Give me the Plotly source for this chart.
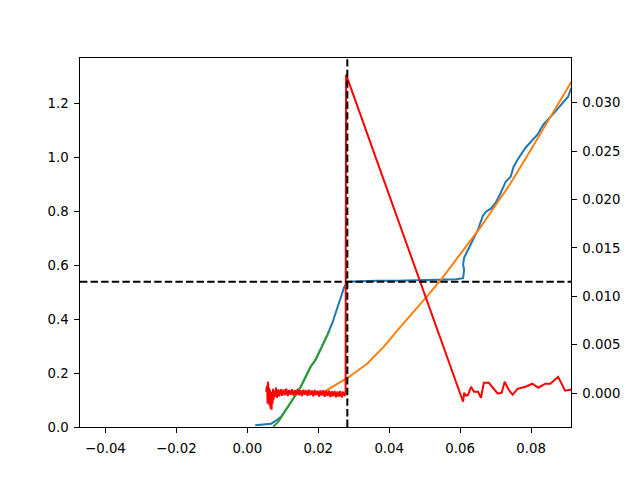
import plotly.graph_objects as go

# ---------------- data ----------------
blue_x = [0.00223, 0.00447, 0.00670, 0.00809, 0.00949, 0.01089, 0.01228, 0.01368, 0.01507, 0.01647,
          0.01786, 0.01926, 0.02037, 0.02149, 0.02261, 0.02400, 0.02540, 0.02679, 0.02735, 0.02819,
          0.03098, 0.03656, 0.04214, 0.04772, 0.05331, 0.05889, 0.06084, 0.06112, 0.06084, 0.06112,
          0.06224, 0.06363, 0.06503, 0.06643, 0.06726, 0.06866, 0.07005, 0.07145, 0.07284, 0.07424,
          0.07508, 0.07619, 0.07843, 0.08178, 0.08345, 0.08680, 0.08903, 0.09043, 0.09126, 0.09238]
blue_y = [0.0067, 0.0085, 0.0122, 0.0233, 0.0381, 0.0641, 0.0900, 0.1196, 0.1493, 0.1863,
          0.2233, 0.2493, 0.2789, 0.3122, 0.3419, 0.3863, 0.4456, 0.5011, 0.5196, 0.5381,
          0.5400, 0.5419, 0.5419, 0.5437, 0.5456, 0.5474, 0.5511, 0.5826, 0.6011, 0.6270,
          0.6567, 0.6937, 0.7307, 0.7826, 0.7974, 0.8085, 0.8307, 0.8678, 0.9085, 0.9270,
          0.9641, 0.9900, 1.0344, 1.0826, 1.1196, 1.1678, 1.2011, 1.2233, 1.2530, 1.2715]

orange_x = [0.02037, 0.02261, 0.02540, 0.02875, 0.03377, 0.03852, 0.04298, 0.04773, 0.05135, 0.05526,
            0.06112, 0.06587, 0.06950, 0.07396, 0.07843, 0.08317, 0.08764, 0.09126, 0.09238]
orange_y = [0.1196, 0.1381, 0.1604, 0.1863, 0.2344, 0.2974, 0.3678, 0.4381, 0.4937, 0.5567,
            0.6604, 0.7419, 0.8122, 0.8974, 0.9937, 1.0974, 1.1974, 1.2789, 1.3011]

green_x = [0.00726, 0.00865, 0.00949, 0.01089, 0.01228, 0.01368, 0.01507, 0.01647, 0.01786, 0.01926,
           0.02037, 0.02149, 0.02261, 0.02317]
green_y = [0.0011, 0.0178, 0.0344, 0.0622, 0.0900, 0.1196, 0.1493, 0.1863, 0.2233, 0.2493,
           0.2789, 0.3122, 0.3419, 0.3567]

red_x = [0.00530, 0.00558, 0.00572, 0.00586, 0.00600, 0.00614, 0.00628, 0.00642, 0.00656, 0.00670,
         0.00684, 0.00698, 0.00712, 0.00726, 0.00740, 0.00754, 0.00781, 0.00809, 0.00837, 0.00865,
         0.0090, 0.0094, 0.0098, 0.0102, 0.0106, 0.0110, 0.0114, 0.0118, 0.0122, 0.0126,
         0.0130, 0.0134, 0.0138, 0.0142, 0.0146, 0.0150, 0.0154, 0.0158, 0.0162, 0.0166,
         0.0170, 0.0174, 0.0178, 0.0182, 0.0186, 0.0190, 0.0194, 0.0198, 0.0202, 0.0206,
         0.0210, 0.0214, 0.0218, 0.0222, 0.0226, 0.0230, 0.0234, 0.0238, 0.0242, 0.0246,
         0.0250, 0.0254, 0.0258, 0.0262, 0.0266, 0.0270, 0.0274,
         0.02771, 0.02785,
         0.06084, 0.06112, 0.06168, 0.06224, 0.06308, 0.06391, 0.06503, 0.06587, 0.06670, 0.06810,
         0.06922, 0.07061, 0.07173, 0.07256, 0.07368, 0.07480, 0.07619, 0.07843, 0.08038, 0.08206,
         0.08401, 0.08541, 0.08764, 0.08959, 0.09099, 0.09238]
red_y = [0.00013, 0.00075, -0.00111, 0.00117, -0.00069, 0.00055, -0.00131, 0.00034, -0.00162, -0.00018,
         -0.00173, 0.00013, -0.00111, 0.00044, -0.00069, 0.00024, -0.00038, 0.00055, -0.00049, 0.00034,
         -0.00035, 0.00040, -0.00028, 0.00036, -0.00022, 0.00045, -0.00030, 0.00032, -0.00018, 0.00038,
         -0.00026, 0.00030, -0.00020, 0.00041, -0.00024, 0.00028, -0.00031, 0.00035, -0.00017, 0.00030,
         -0.00027, 0.00033, -0.00022, 0.00027, -0.00033, 0.00031, -0.00021, 0.00024, -0.00036, 0.00026,
         -0.00025, 0.00029, -0.00038, 0.00020, -0.00030, 0.00025, -0.00041, 0.00018, -0.00033, 0.00022,
         -0.00043, 0.00016, -0.00037, 0.00021, -0.00045, 0.00012, -0.00030,
         -0.00010, 0.03290,
         -0.00090, 0.00003, -0.00028, -0.00018, 0.00065, 0.00013, 0.00013, -0.00049, 0.00106, 0.00106,
         0.00055, -0.00007, 0.00003, 0.00117, 0.00034, -0.00018, 0.00044, 0.00065, 0.00096, 0.00055,
         0.00096, 0.00096, 0.00168, 0.00024, 0.00034, 0.00044]

hline_y = 0.538
vline_x = 0.0282

x_ticks = [-0.04, -0.02, 0.00, 0.02, 0.04, 0.06, 0.08]
x_labels = ["\u22120.04", "\u22120.02", "0.00", "0.02", "0.04", "0.06", "0.08"]
y_ticks = [0.0, 0.2, 0.4, 0.6, 0.8, 1.0, 1.2]
y_labels = ["0.0", "0.2", "0.4", "0.6", "0.8", "1.0", "1.2"]
y2_ticks = [0.000, 0.005, 0.010, 0.015, 0.020, 0.025, 0.030]
y2_labels = ["0.000", "0.005", "0.010", "0.015", "0.020", "0.025", "0.030"]

# ---------------- figure ----------------
fig = go.Figure()
fig.add_trace(go.Scatter(x=blue_x, y=blue_y, mode="lines", line=dict(color="#1f77b4", width=2)))
fig.add_trace(go.Scatter(x=orange_x, y=orange_y, mode="lines", line=dict(color="#ff7f0e", width=2)))
fig.add_trace(go.Scatter(x=green_x, y=green_y, mode="lines", line=dict(color="#2ca02c", width=2)))
fig.add_trace(go.Scatter(x=red_x, y=red_y, mode="lines", yaxis="y2", line=dict(color="#ff0000", width=2)))

dash = "7.4px,3.2px"
fig.add_shape(type="line", xref="paper", x0=0, x1=1, yref="y", y0=hline_y, y1=hline_y,
              line=dict(color="black", width=2, dash=dash), layer="above")
fig.add_shape(type="line", xref="x", x0=vline_x, x1=vline_x, yref="paper", y0=0, y1=1,
              line=dict(color="black", width=2, dash=dash), layer="above")

axis_common = dict(showline=True, linecolor="black", linewidth=1, ticks="outside", ticklen=4.7,
                   tickwidth=1, tickcolor="black", showgrid=False, zeroline=False,
                   tickfont=dict(family="DejaVu Sans", size=13.3, color="black"))

# page body has an 8px default margin, so the figure is shifted by (8, 8)
fig.update_layout(
    width=624, height=464, autosize=False,
    margin=dict(l=72, r=56, t=50, b=45, pad=0),
    plot_bgcolor="white", paper_bgcolor="white",
    showlegend=False,
    font=dict(family="DejaVu Sans", size=13.3, color="black"),
    xaxis=dict(range=[-0.04717, 0.09126], tickvals=x_ticks, ticktext=x_labels, mirror=True,
               ticklabelstandoff=4, **axis_common),
    yaxis=dict(range=[0, 1.3667], tickvals=y_ticks, ticktext=y_labels,
               ticklabelstandoff=3, **axis_common),
    yaxis2=dict(range=[-0.00351, 0.03462], tickvals=y2_ticks, ticktext=y2_labels,
                overlaying="y", side="right", ticklabelstandoff=3, **axis_common),
)

fig.write_html("out.html")
